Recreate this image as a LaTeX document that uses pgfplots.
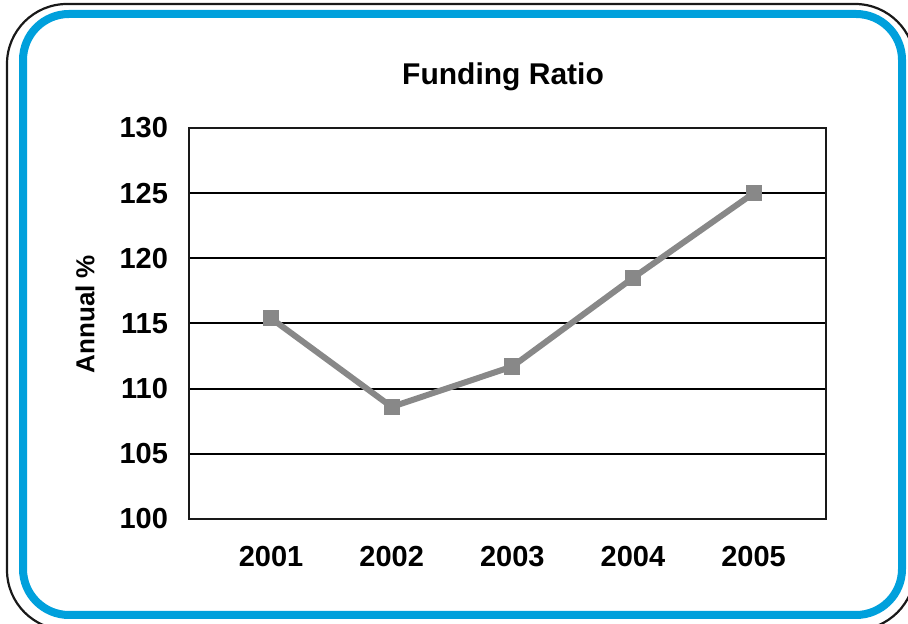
\documentclass[border=0pt]{standalone}
\usepackage{fontspec}
\setmainfont{Liberation Sans}
\usepackage{pgfplots}
\pgfplotsset{compat=1.18}
\definecolor{frameblue}{RGB}{0,160,220}
\definecolor{linegray}{RGB}{136,136,136}
\begin{document}
\begin{tikzpicture}
\useasboundingbox (0,0) rectangle (454pt,312pt);
\begin{scope}
\clip (0,0) rectangle (454pt,312pt);
\draw[line width=1.1pt, black!90, rounded corners=30pt] (3.5pt,-3pt) rectangle (457.5pt,310pt);
\draw[line width=4pt, frameblue, rounded corners=23pt] (11.5pt,4.5pt) rectangle (451pt,305pt);
\end{scope}
\begin{axis}[
  at={(94.5pt,52.5pt)}, anchor=south west,
  scale only axis, width=318.5pt, height=195.5pt,
  xmin=-0.68, xmax=4.6, ymin=100, ymax=130,
  xtick={0,1,2,3,4}, xticklabels={2001,2002,2003,2004,2005},
  ytick={100,105,...,130},
  ymajorgrids, major grid style={black, line width=1pt},
  axis line style={black!90, line width=1pt},
  major tick length=0pt,
  tick label style={font=\fontsize{14.5}{16}\selectfont\bfseries},
  /pgf/number format/assume math mode=true,
  yticklabel style={xshift=-7pt},
  xticklabel style={yshift=-10pt},
  title={Funding Ratio},
  every axis title shift=0pt,
  title style={at={(0.493,1.13)}, anchor=center, font=\fontsize{15}{18}\selectfont\bfseries},
  ylabel={Annual \%},
  ylabel style={at={(-0.163,0.524)}, anchor=center, font=\fontsize{13}{15}\selectfont\bfseries},
  clip=false,
]
\addplot[color=linegray, line width=3pt, mark=square*, mark size=3.8pt, mark options={solid, fill=linegray, draw=linegray, line width=0pt}]
  coordinates {(0,115.4) (1,108.6) (2,111.7) (3,118.5) (4,125.0)};
\end{axis}
\end{tikzpicture}
\end{document}
